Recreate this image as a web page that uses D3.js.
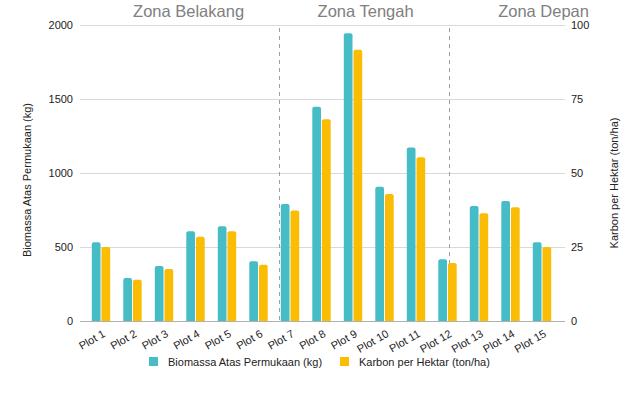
<!DOCTYPE html>
<html>
<head>
<meta charset="utf-8">
<script src="https://cdn.jsdelivr.net/npm/d3@7"></script>
<style>
  html, body { margin: 0; padding: 0; background: #fff; }
  svg { display: block; font-family: "Liberation Sans", Arial, sans-serif; }
</style>
</head>
<body>
<svg id="chart" width="639" height="395"></svg>
<script>
// ---- data ----
const categories = ["Plot 1","Plot 2","Plot 3","Plot 4","Plot 5","Plot 6","Plot 7","Plot 8","Plot 9","Plot 10","Plot 11","Plot 12","Plot 13","Plot 14","Plot 15"];
const biomassa = [532, 290, 372, 606, 640, 403, 790, 1448, 1944, 907, 1173, 417, 777, 811, 532];
const karbon = [25.0, 13.9, 17.6, 28.5, 30.3, 19.0, 37.3, 68.2, 91.6, 42.9, 55.3, 19.6, 36.4, 38.4, 25.0];
const seriesNames = ["Biomassa Atas Permukaan (kg)", "Karbon per Hektar (ton/ha)"];
const leftTicks = [0, 500, 1000, 1500, 2000];
const rightTicks = [0, 25, 50, 75, 100];
const zoneLabels = ["Zona Belakang", "Zona Tengah", "Zona Depan"];
const zoneLabelPos = [2.78, 8.4, 14.05];   // in category-index units
const zoneDividers = [5.65, 11.05];         // in category-index units

// ---- layout ----
const svg = d3.select("#chart");
const plotL = 80, plotR = 565, plotT = 25, plotB = 321;
const colors = ["#46BDC6", "#FBBC04"];

const x = d3.scaleBand().domain(categories).range([85.25, 557.75]).padding(0);
const xi = d3.scaleLinear().domain([0, categories.length - 1])
  .range([x(categories[0]) + x.bandwidth() / 2, x(categories[categories.length - 1]) + x.bandwidth() / 2]);
const xs = d3.scaleBand().domain([0, 1]).range([-9.2, 9.2]).paddingInner(0.1);
const yL = d3.scaleLinear().domain([0, 2000]).range([plotB, plotT]);
const yR = d3.scaleLinear().domain([0, 100]).range([plotB, plotT]);

// gridlines
svg.append("g").selectAll("line").data(leftTicks.filter(d => d > 0)).join("line")
  .attr("x1", plotL).attr("x2", plotR)
  .attr("y1", d => yL(d) + 0.5).attr("y2", d => yL(d) + 0.5)
  .attr("stroke", "#d9d9d9").attr("stroke-width", 1);

// left axis labels
const leftAxis = d3.axisLeft(yL).tickValues(leftTicks).tickFormat(d3.format("d")).tickSize(0).tickPadding(7);
const gl = svg.append("g").attr("transform", `translate(${plotL},0)`).call(leftAxis);
gl.select(".domain").remove();
gl.selectAll("text").attr("font-size", 11).attr("fill", "#222").attr("font-family", "Liberation Sans, Arial, sans-serif");

// right axis labels
const rightAxis = d3.axisRight(yR).tickValues(rightTicks).tickFormat(d3.format("d")).tickSize(0).tickPadding(6);
const gr = svg.append("g").attr("transform", `translate(${plotR},0)`).call(rightAxis);
gr.select(".domain").remove();
gr.selectAll("text").attr("font-size", 11).attr("fill", "#222").attr("font-family", "Liberation Sans, Arial, sans-serif");

// dashed zone dividers
svg.append("g").selectAll("line").data(zoneDividers).join("line")
  .attr("x1", d => Math.round(xi(d)) + 0.5).attr("x2", d => Math.round(xi(d)) + 0.5)
  .attr("y1", 28).attr("y2", plotB)
  .attr("stroke", "#9e9e9e").attr("stroke-width", 1).attr("stroke-dasharray", "4,4");

// bars with rounded tops
function barPath(x0, w, yTop, yBase) {
  const r = Math.min(2, w / 2, (yBase - yTop) / 2);
  return `M${x0},${yBase}V${yTop + r}Q${x0},${yTop} ${x0 + r},${yTop}H${x0 + w - r}Q${x0 + w},${yTop} ${x0 + w},${yTop + r}V${yBase}Z`;
}
const barData = [];
categories.forEach((c, i) => {
  barData.push({ cat: c, s: 0, y: yL(biomassa[i]) });
  barData.push({ cat: c, s: 1, y: yR(karbon[i]) });
});
svg.append("g").selectAll("path").data(barData).join("path")
  .attr("d", d => barPath(x(d.cat) + x.bandwidth() / 2 + xs(d.s), xs.bandwidth(), d.y, plotB))
  .attr("fill", d => colors[d.s]);

// baseline
svg.append("line").attr("x1", plotL).attr("x2", plotR)
  .attr("y1", plotB + 0.5).attr("y2", plotB + 0.5)
  .attr("stroke", "#b0b0b0").attr("stroke-width", 1);

// x tick labels (slanted)
svg.append("g").selectAll("text").data(categories).join("text")
  .attr("transform", d => `translate(${x(d) + x.bandwidth() / 2 + 5},${336}) rotate(-30)`)
  .attr("text-anchor", "end").attr("font-size", 11).attr("fill", "#222")
  .text(d => d);

// zone labels
svg.append("g").selectAll("text").data(zoneLabels).join("text")
  .attr("x", (d, i) => xi(zoneLabelPos[i])).attr("y", 17)
  .attr("text-anchor", "middle").attr("font-size", 16.5).attr("fill", "#808080")
  .text(d => d);

// axis titles
svg.append("text").attr("transform", "translate(31,180) rotate(-90)")
  .attr("text-anchor", "middle").attr("font-size", 11).attr("fill", "#222")
  .text(seriesNames[0]);
svg.append("text").attr("transform", "translate(618,183) rotate(-90)")
  .attr("text-anchor", "middle").attr("font-size", 11).attr("fill", "#222")
  .text(seriesNames[1]);

// legend
const legendX = [149, 340];
const lg = svg.append("g").selectAll("g").data(seriesNames).join("g")
  .attr("transform", (d, i) => `translate(${legendX[i]},357)`);
lg.append("rect").attr("width", 9).attr("height", 9).attr("fill", (d, i) => colors[i]);
lg.append("text").attr("x", 19).attr("y", 8.5).attr("font-size", 11).attr("fill", "#222").text(d => d);
</script>
</body>
</html>
